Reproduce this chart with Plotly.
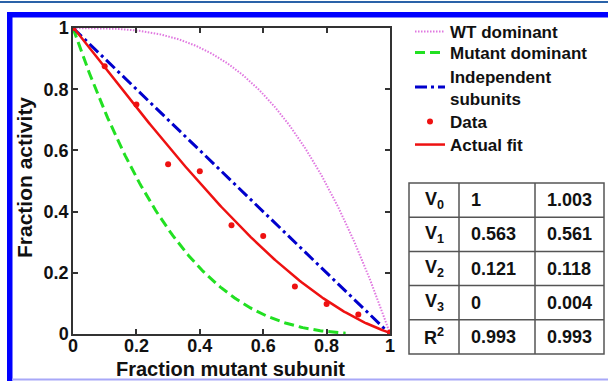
import numpy as np
import plotly.graph_objects as go
from math import comb

# ---------------- data ----------------
frac_data = [0.0, 0.1, 0.2, 0.3, 0.4, 0.5, 0.6, 0.7, 0.8, 0.9, 1.0]
activity_data = [1.0, 0.875, 0.75, 0.555, 0.532, 0.355, 0.32, 0.155, 0.098, 0.064, 0.005]

param_labels = ["V<sub>0</sub>", "V<sub>1</sub>", "V<sub>2</sub>", "V<sub>3</sub>", "R<sup>2</sup>"]
model_vals = ["1", "0.563", "0.121", "0", "0.993"]
fit_vals = ["1.003", "0.561", "0.118", "0.004", "0.993"]

tick_vals = [0, 0.2, 0.4, 0.6, 0.8, 1]
tick_text = ["0", "0.2", "0.4", "0.6", "0.8", "1"]

series_names = ["WT dominant", "Mutant dominant", "Independent<br>subunits", "Data", "Actual fit"]
x_title = "Fraction mutant subunit"
y_title = "Fraction activity"

# ---------------- model curves (trimer, binomial mixing) ----------------
f = np.linspace(0, 1, 201)
n_sub = 3
wt_dom = 1 - f ** n_sub
mut_dom = (1 - f) ** n_sub
indep = 1 - f
V_fit = [float(v) for v in fit_vals[:4]]
fit_curve = sum(comb(n_sub, k) * (1 - f) ** (n_sub - k) * f ** k * V_fit[k] for k in range(n_sub + 1))
mut_mask = f <= 0.86

W, H = 608, 381
def px(x):
    return x / W
def py(y):
    return 1 - y / H

FONT = "Arial, Liberation Sans, sans-serif"

fig = go.Figure()
fig.add_trace(go.Scatter(x=f, y=wt_dom, mode="lines", name=series_names[0], legend="legend",
                         line=dict(color="#e078e0", width=2, dash="1.5px,1.5px")))
fig.add_trace(go.Scatter(x=f[mut_mask], y=mut_dom[mut_mask], mode="lines", name=series_names[1], legend="legend2",
                         line=dict(color="#22e022", width=3, dash="10px,5px")))
fig.add_trace(go.Scatter(x=f, y=indep, mode="lines", name=series_names[2], legend="legend3",
                         line=dict(color="#0000cc", width=3, dash="12px,4px,3px,4px")))
fig.add_trace(go.Scatter(x=frac_data, y=activity_data, mode="markers", name=series_names[3], legend="legend4",
                         marker=dict(color="#ee1111", size=6)))
fig.add_trace(go.Scatter(x=f, y=fit_curve, mode="lines", name=series_names[4], legend="legend5",
                         line=dict(color="#ee1111", width=2.5)))

axis_common = dict(
    range=[0, 1], tickvals=tick_vals, ticktext=tick_text,
    ticks="inside", ticklen=5, tickwidth=1.5, tickcolor="#333",
    showline=True, linecolor="#333", linewidth=1.5, mirror="ticks",
    showgrid=False, zeroline=False, automargin=False,
    tickfont=dict(family=FONT, size=18, color="#111", weight="bold"),
)

legend_font = dict(family=FONT, size=17, color="#111", weight="bold")
legend_y = [32, 53, 87.5, 122, 145]
legend_keys = ["legend", "legend2", "legend3", "legend4", "legend5"]
legends = {}
for key, yc in zip(legend_keys, legend_y):
    legends[key] = dict(x=px(410), y=py(yc), xanchor="left", yanchor="middle",
                        font=legend_font, bgcolor="rgba(0,0,0,0)", borderwidth=0)

fig.update_layout(
    width=W, height=H,
    margin=dict(l=0, r=0, t=0, b=0),
    paper_bgcolor="white", plot_bgcolor="white",
    xaxis=dict(domain=[px(73), px(390)], ticklabelstandoff=-5, **axis_common),
    yaxis=dict(domain=[py(334), py(28)], ticklabelstandoff=-1, **axis_common),
    showlegend=True,
    **legends,
)

shapes = []
# frame
shapes.append(dict(type="line", xref="paper", yref="paper", x0=0, x1=1, y0=py(2), y1=py(2),
                   line=dict(color="#2a62a8", width=2)))
shapes.append(dict(type="rect", xref="paper", yref="paper", x0=px(7), x1=1, y0=py(17.5), y1=py(12),
                   fillcolor="#0000ff", line=dict(width=0)))
shapes.append(dict(type="rect", xref="paper", yref="paper", x0=px(7), x1=px(12.5), y0=0, y1=py(12),
                   fillcolor="#0000ff", line=dict(width=0)))
shapes.append(dict(type="line", xref="paper", yref="paper", x0=px(12), x1=1, y0=py(379.5), y1=py(379.5),
                   line=dict(color="#a8a8f8", width=2)))

# table
tx0, tx1, tx2, tx3 = 409, 459, 535, 604
ty0, ty1 = 183, 354
nrows = len(param_labels)
rh = (ty1 - ty0) / nrows
tline = dict(color="#555", width=1.5)
shapes.append(dict(type="rect", xref="paper", yref="paper", x0=px(tx0), x1=px(tx3), y0=py(ty1), y1=py(ty0),
                   line=tline))
for xv in (tx1, tx2):
    shapes.append(dict(type="line", xref="paper", yref="paper", x0=px(xv), x1=px(xv), y0=py(ty1), y1=py(ty0),
                       line=tline))
for i in range(1, nrows):
    yv = ty0 + i * rh
    shapes.append(dict(type="line", xref="paper", yref="paper", x0=px(tx0), x1=px(tx3), y0=py(yv), y1=py(yv),
                       line=tline))

annotations = []
annotations.append(dict(x=px(231), y=py(368.5), xref="paper", yref="paper", text=x_title, showarrow=False,
                        xanchor="center", yanchor="middle",
                        font=dict(family=FONT, size=20, color="#111", weight="bold")))
annotations.append(dict(x=px(24), y=py(178), xref="paper", yref="paper", text=y_title, showarrow=False,
                        textangle=-90, xanchor="center", yanchor="middle",
                        font=dict(family=FONT, size=21, color="#111", weight="bold")))

tfont = dict(family=FONT, size=18, color="#111", weight="bold")
for i in range(nrows):
    yc = ty0 + (i + 0.5) * rh
    annotations.append(dict(x=px((tx0 + tx1) / 2), y=py(yc), xref="paper", yref="paper",
                            text=param_labels[i], showarrow=False, xanchor="center", yanchor="middle", font=tfont))
    annotations.append(dict(x=px(tx1 + 10), y=py(yc), xref="paper", yref="paper",
                            text=model_vals[i], showarrow=False, xanchor="left", yanchor="middle", font=tfont))
    annotations.append(dict(x=px(tx2 + 10), y=py(yc), xref="paper", yref="paper",
                            text=fit_vals[i], showarrow=False, xanchor="left", yanchor="middle", font=tfont))

fig.update_layout(shapes=shapes, annotations=annotations)
fig.write_html("out.html", config={"displayModeBar": False},
               post_script="document.body.style.margin='0';document.body.style.padding='0';")
